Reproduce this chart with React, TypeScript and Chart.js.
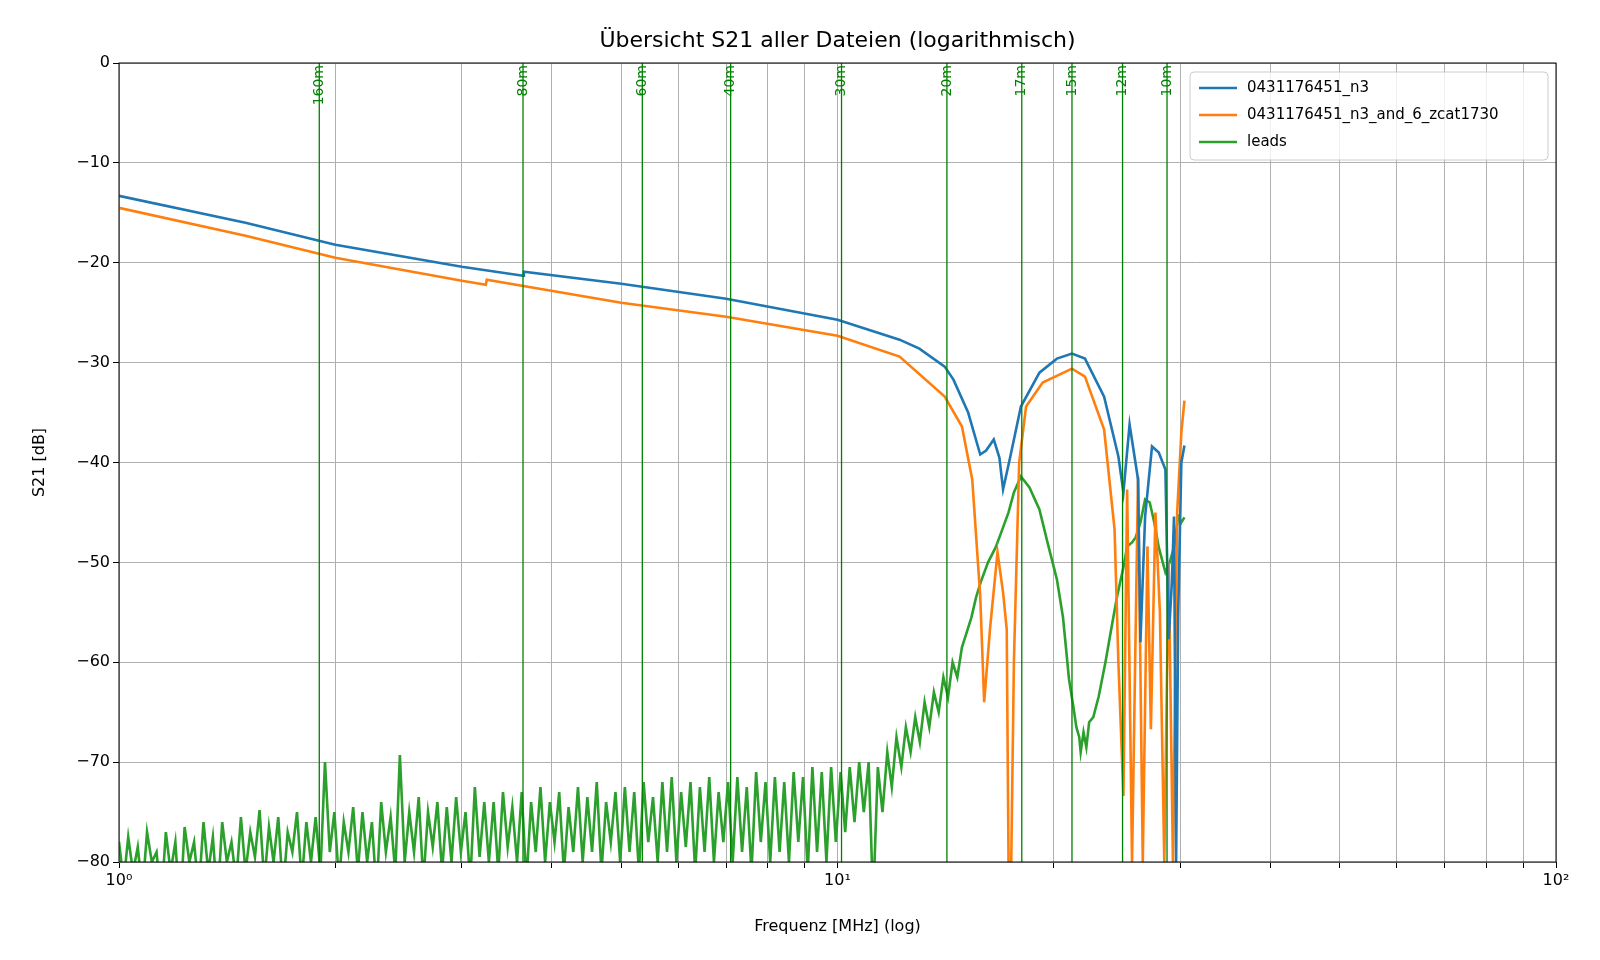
import React, { useEffect, useRef } from "react";
import { Chart, registerables } from "chart.js";
Chart.register(...registerables);

const n3Freq = [1, 1.5, 2, 3, 3.65, 3.66, 5, 7, 10, 12.2, 13, 14.1, 14.5, 15.2, 15.8, 16.1, 16.5, 16.8, 17.0, 17.4, 18, 19.1, 20.2, 21.2, 22.1, 23.5, 24.6, 25.0, 25.5, 26.2, 26.4, 26.8, 27.4, 28.0, 28.6, 28.9, 29.2, 29.4, 29.6, 29.8, 30.1, 30.4];
const n3Db = [-13.3, -16.0, -18.2, -20.4, -21.3, -20.9, -22.1, -23.6, -25.7, -27.7, -28.6, -30.4, -31.7, -35, -39.2, -38.8, -37.7, -39.5, -42.7, -39.4, -34.4, -31, -29.6, -29.1, -29.6, -33.4, -39.4, -43, -36.2, -41.7, -58, -45.4, -38.4, -39, -40.7, -57.7, -52, -45.4, -80, -55, -40, -38.3];

const zcatFreq = [1, 1.5, 2, 3, 3.24, 3.25, 5, 7, 10, 12.2, 14.1, 14.9, 15.4, 15.8, 16.0, 16.3, 16.7, 17.0, 17.2, 17.3, 17.45, 17.6, 17.9, 18.3, 19.3, 21.2, 22.1, 23.5, 24.3, 24.6, 25.0, 25.3, 25.7, 26.2, 26.6, 27.0, 27.3, 27.7, 28.1, 28.5, 28.9, 29.3, 29.7, 30.1, 30.4];
const zcatDb = [-14.5, -17.3, -19.5, -21.8, -22.2, -21.7, -24, -25.4, -27.3, -29.4, -33.4, -36.4, -41.7, -53.4, -64, -56.7, -49, -53, -56.7, -80, -80, -60, -40, -34.4, -32, -30.6, -31.4, -36.7, -46.7, -60, -73.4, -42.7, -80, -41.4, -80, -48.4, -66.7, -45, -55, -80, -50, -80, -45, -37, -33.8];

const leadsFreq = [
  1.000, 1.015, 1.030, 1.046, 1.062, 1.078, 1.094, 1.111, 1.128, 1.145,
  1.162, 1.180, 1.198, 1.216, 1.234, 1.253, 1.272, 1.291, 1.311, 1.331,
  1.351, 1.371, 1.392, 1.413, 1.434, 1.456, 1.478, 1.500, 1.523, 1.546,
  1.569, 1.593, 1.617, 1.641, 1.666, 1.691, 1.717, 1.743, 1.769, 1.796,
  1.823, 1.850, 1.878, 1.907, 1.935, 1.965, 1.994, 2.024, 2.055, 2.086,
  2.118, 2.150, 2.182, 2.215, 2.249, 2.283, 2.317, 2.352, 2.388, 2.424,
  2.460, 2.498, 2.535, 2.574, 2.613, 2.652, 2.692, 2.733, 2.774, 2.816,
  2.859, 2.902, 2.946, 2.991, 3.036, 3.082, 3.128, 3.176, 3.224, 3.272,
  3.322, 3.372, 3.423, 3.475, 3.527, 3.581, 3.635, 3.690, 3.746, 3.802,
  3.860, 3.918, 3.978, 4.038, 4.099, 4.161, 4.224, 4.288, 4.353, 4.419,
  4.486, 4.554, 4.623, 4.693, 4.764, 4.836, 4.909, 4.983, 5.059, 5.135,
  5.213, 5.292, 5.372, 5.453, 5.536, 5.620, 5.705, 5.791, 5.879, 5.968,
  6.058, 6.150, 6.243, 6.338, 6.434, 6.531, 6.630, 6.730, 6.832, 6.936,
  7.041, 7.147, 7.255, 7.365, 7.477, 7.590, 7.705, 7.821, 7.940, 8.060,
  8.182, 8.306, 8.431, 8.559, 8.689, 8.820, 8.954, 9.089, 9.227, 9.366,
  9.508, 9.652, 9.798, 9.946, 10.10, 10.25, 10.40, 10.56, 10.72, 10.88,
  11.05, 11.21, 11.38, 11.55, 11.73, 11.90, 12.08, 12.27, 12.45, 12.64,
  12.83, 13.02, 13.22, 13.42, 13.62, 13.83, 14.04, 14.25, 14.46, 14.68,
  14.90, 15.13, 15.36, 15.59, 15.82,
  16.2, 16.6, 16.9, 17.3, 17.6, 18.0, 18.5, 19.1, 19.6, 20.2,
  20.6, 21.0, 21.3, 21.5, 21.7, 21.8, 22.0, 22.2, 22.4, 22.7,
  23.1, 23.6, 24.0, 24.5, 25.0, 25.3, 25.7, 26.0, 26.4, 26.8,
  27.2, 27.6, 28.0, 28.6, 29.0, 29.4, 29.8, 30.1, 30.4,
];
const leadsDb = [
  -78, -82, -77.5, -81, -78.5, -83, -77, -80, -79, -84,
  -77, -81, -78, -85, -76.5, -80, -78, -83, -76, -81,
  -77.5, -84, -76, -80, -78, -82, -75.5, -81, -77, -79.5,
  -74.8, -82, -76.5, -80, -75.5, -83, -77, -79, -75, -82,
  -76, -80, -75.5, -81, -70, -79, -75, -82, -76, -79,
  -74.5, -81, -75, -80, -76, -83, -74, -79, -75.5, -81,
  -69.3, -80, -75, -79, -73.5, -82, -75, -78.5, -74, -81,
  -74.5, -80, -73.5, -79, -75, -82, -72.5, -79.5, -74, -80,
  -74, -81, -73, -78.5, -74.5, -80, -73, -82, -74, -79,
  -72.5, -80, -74, -78, -73, -81, -74.5, -79, -72.5, -80,
  -73.5, -79, -72, -81, -74, -78, -73, -80, -72.5, -79,
  -73, -81, -72, -78, -73.5, -80, -72, -79, -71.5, -80,
  -73, -78.5, -72, -81, -72.5, -79, -71.5, -80, -73, -78,
  -72, -80, -71.5, -79, -72.5, -81, -71, -78, -72, -80,
  -71.5, -79, -72, -80, -71, -78, -71.5, -81, -70.5, -79,
  -71, -80, -70.5, -78, -71, -77, -70.5, -76, -70, -75,
  -70, -84, -70.5, -75, -69, -72.5, -67.5, -70.5, -66.5, -69,
  -65.5, -68, -64, -66.5, -63, -65, -61.5, -63.5, -60, -61.5,
  -58.5, -57, -55.5, -53.5, -52,
  -50, -48.5, -47, -45, -43, -41.4, -42.5, -44.7, -48, -51.7,
  -55.5, -61.7, -64.5, -66.5, -67.5, -69, -67, -68.5, -66, -65.5,
  -63.4, -60, -57, -53.4, -50.5, -48.4, -48, -47.5, -46, -43.7,
  -44, -46, -48.5, -51, -50, -48.5, -45.4, -46, -45.5,
];

const bandLabels = ["160m", "80m", "60m", "40m", "30m", "20m", "17m", "15m", "12m", "10m"];
const bandFreq = [1.9, 3.65, 5.35, 7.1, 10.13, 14.2, 18.05, 21.2, 24.93, 28.75];

const seriesNames = ["0431176451_n3", "0431176451_n3_and_6_zcat1730", "leads"];
const seriesColors = ["#1f77b4", "#ff7f0e", "#2ca02c"];

const xTicks: number[] = [];
for (const d of [1, 10]) for (let k = 1; k <= 9; k++) xTicks.push(d * k);
xTicks.push(100);

const FONT = "'DejaVu Sans', sans-serif";

const overlay = {
  id: "overlay",
  afterDatasetsDraw(chart: any) {
    const { ctx, chartArea: a, scales } = chart;
    ctx.save();
    ctx.strokeStyle = "#008000";
    ctx.fillStyle = "#008000";
    ctx.lineWidth = 1.3;
    ctx.font = `14px ${FONT}`;
    bandFreq.forEach((f, i) => {
      const x = scales.x.getPixelForValue(f);
      ctx.beginPath();
      ctx.moveTo(x, a.top);
      ctx.lineTo(x, a.bottom);
      ctx.stroke();
      ctx.save();
      ctx.translate(x, a.top + 2);
      ctx.rotate(-Math.PI / 2);
      ctx.textAlign = "right";
      ctx.textBaseline = "middle";
      ctx.fillText(bandLabels[i], 0, 0);
      ctx.restore();
    });
    ctx.restore();
  },
  afterDraw(chart: any) {
    const { ctx, chartArea: a } = chart;
    ctx.save();
    ctx.strokeStyle = "#000";
    ctx.lineWidth = 1;
    ctx.strokeRect(a.left, a.top, a.right - a.left, a.bottom - a.top);
    ctx.fillStyle = "#000";
    ctx.font = `22px ${FONT}`;
    ctx.textAlign = "center";
    ctx.textBaseline = "middle";
    ctx.fillText("Übersicht S21 aller Dateien (logarithmisch)", (a.left + a.right) / 2, 41);
    const lx = 1190, ly = 72, lw = 358, lh = 88;
    ctx.fillStyle = "rgba(255,255,255,0.8)";
    ctx.strokeStyle = "#cccccc";
    ctx.beginPath();
    ctx.roundRect(lx, ly, lw, lh, 4);
    ctx.fill();
    ctx.stroke();
    ctx.font = `15px ${FONT}`;
    ctx.textAlign = "left";
    seriesNames.forEach((n, i) => {
      const y = ly + 16 + i * 27;
      ctx.strokeStyle = seriesColors[i];
      ctx.lineWidth = 2.5;
      ctx.beginPath();
      ctx.moveTo(lx + 9, y);
      ctx.lineTo(lx + 47, y);
      ctx.stroke();
      ctx.fillStyle = "#000";
      ctx.fillText(n, lx + 57, y);
    });
    ctx.restore();
  },
};

export default function App() {
  const ref = useRef<HTMLCanvasElement>(null);
  useEffect(() => {
    const mk = (f: number[], v: number[]) => f.map((x, i) => ({ x, y: v[i] }));
    const chart = new Chart(ref.current!, {
      type: "line",
      data: {
        datasets: [
          { label: seriesNames[0], data: mk(n3Freq, n3Db), borderColor: seriesColors[0], borderWidth: 2.6 },
          { label: seriesNames[1], data: mk(zcatFreq, zcatDb), borderColor: seriesColors[1], borderWidth: 2.6 },
          { label: seriesNames[2], data: mk(leadsFreq, leadsDb), borderColor: seriesColors[2], borderWidth: 2.6 },
        ].map((d) => ({ ...d, pointRadius: 0, tension: 0, fill: false })),
      },
      options: {
        animation: false,
        responsive: false,
        layout: { padding: { top: 63, right: 44, left: 26, bottom: 20 } },
        plugins: { legend: { display: false }, title: { display: false }, tooltip: { enabled: false } },
        scales: {
          x: {
            type: "logarithmic",
            min: 1,
            max: 100,
            afterBuildTicks: (s: any) => { s.ticks = xTicks.map((value) => ({ value })); },
            afterFit: (s: any) => { s.height = 78; },
            ticks: {
              autoSkip: false,
              maxRotation: 0,
              color: "#000",
              font: { family: FONT, size: 16 },
              callback: (v: any) => (v === 1 ? "10⁰" : v === 10 ? "10¹" : v === 100 ? "10²" : ""),
            },
            grid: { color: "#b0b0b0", lineWidth: 1, tickLength: 6, tickColor: "#000" },
            border: { display: false },
            title: { display: true, text: "Frequenz [MHz] (log)", color: "#000", font: { family: FONT, size: 16 } },
          },
          y: {
            min: -80,
            max: 0,
            afterFit: (s: any) => { s.width = 93; },
            ticks: {
              stepSize: 10,
              color: "#000",
              font: { family: FONT, size: 16 },
              callback: (v: any) => (v < 0 ? "−" + Math.abs(v) : String(v)),
            },
            grid: { color: "#b0b0b0", lineWidth: 1, tickLength: 6, tickColor: "#000" },
            border: { display: false },
            title: { display: true, text: "S21 [dB]", color: "#000", font: { family: FONT, size: 16 } },
          },
        },
      },
      plugins: [overlay],
    });
    return () => chart.destroy();
  }, []);
  return (
    <div style={{ position: "absolute", left: 0, top: 0, width: 1600, height: 960, background: "#fff" }}>
      <canvas ref={ref} width={1600} height={960} style={{ width: 1600, height: 960 }} />
    </div>
  );
}
